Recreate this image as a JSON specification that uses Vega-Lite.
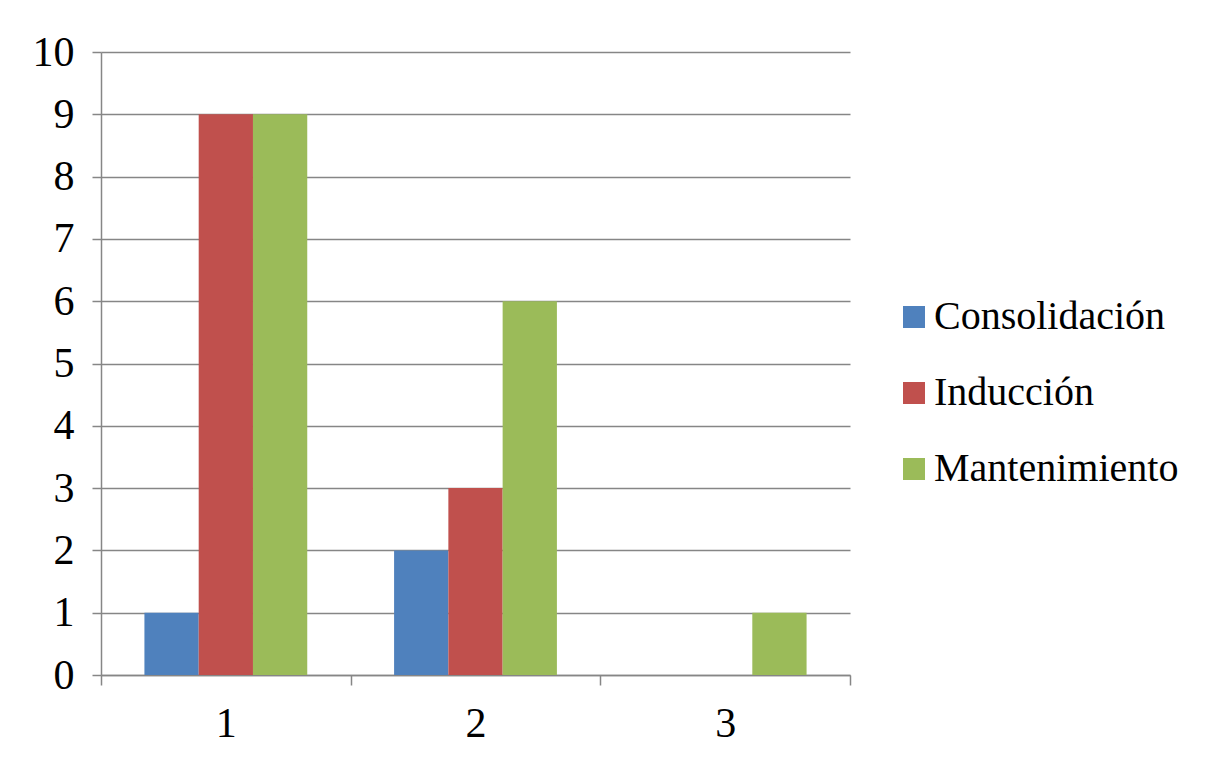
{
  "$schema": "https://vega.github.io/schema/vega-lite/v6.json",
  "width": 749,
  "height": 623,
  "autosize": {"type": "none"},
  "padding": {"left": 101, "top": 52, "right": 368, "bottom": 100},
  "background": "white",
  "config": {"view": {"stroke": null}, "font": "Liberation Serif"},
  "data": {
    "values": [
      {"grupo": "1", "serie": "Consolidación", "valor": 1},
      {"grupo": "1", "serie": "Inducción", "valor": 9},
      {"grupo": "1", "serie": "Mantenimiento", "valor": 9},
      {"grupo": "2", "serie": "Consolidación", "valor": 2},
      {"grupo": "2", "serie": "Inducción", "valor": 3},
      {"grupo": "2", "serie": "Mantenimiento", "valor": 6},
      {"grupo": "3", "serie": "Consolidación", "valor": 0},
      {"grupo": "3", "serie": "Inducción", "valor": 0},
      {"grupo": "3", "serie": "Mantenimiento", "valor": 1}
    ]
  },
  "mark": {"type": "bar"},
  "encoding": {
    "x": {
      "field": "grupo",
      "type": "nominal",
      "scale": {"paddingInner": 0, "paddingOuter": 0},
      "axis": {
        "title": null,
        "labelAngle": 0,
        "labelFont": "Liberation Serif",
        "labelFontSize": 42,
        "labelColor": "#000000",
        "labelPadding": 18,
        "tickBand": "extent",
        "tickSize": 10,
        "tickColor": "#868686",
        "tickWidth": 1.5,
        "domainColor": "#868686",
        "domainWidth": 1.5,
        "grid": false
      }
    },
    "xOffset": {
      "field": "serie",
      "type": "nominal",
      "sort": ["Consolidación", "Inducción", "Mantenimiento"],
      "scale": {"paddingInner": 0, "paddingOuter": 0.8}
    },
    "y": {
      "field": "valor",
      "type": "quantitative",
      "scale": {"domain": [0, 10], "nice": false},
      "axis": {
        "title": null,
        "values": [0, 1, 2, 3, 4, 5, 6, 7, 8, 9, 10],
        "labelFont": "Liberation Serif",
        "labelFontSize": 42,
        "labelColor": "#000000",
        "labelPadding": 18,
        "tickSize": 9,
        "tickColor": "#868686",
        "tickWidth": 1.5,
        "domainColor": "#868686",
        "domainWidth": 1.5,
        "grid": true,
        "gridColor": "#868686",
        "gridWidth": 1.5
      }
    },
    "color": {
      "field": "serie",
      "type": "nominal",
      "sort": ["Consolidación", "Inducción", "Mantenimiento"],
      "scale": {
        "domain": ["Consolidación", "Inducción", "Mantenimiento"],
        "range": ["#4F81BD", "#C0504D", "#9BBB59"]
      },
      "legend": {
        "title": null,
        "orient": "none",
        "legendX": 793,
        "legendY": 245,
        "symbolType": "square",
        "symbolSize": 484,
        "symbolStrokeWidth": 0,
        "labelFont": "Liberation Serif",
        "labelFontSize": 40,
        "labelColor": "#000000",
        "labelOffset": 0,
        "labelLimit": 400,
        "rowPadding": 36
      }
    }
  }
}
